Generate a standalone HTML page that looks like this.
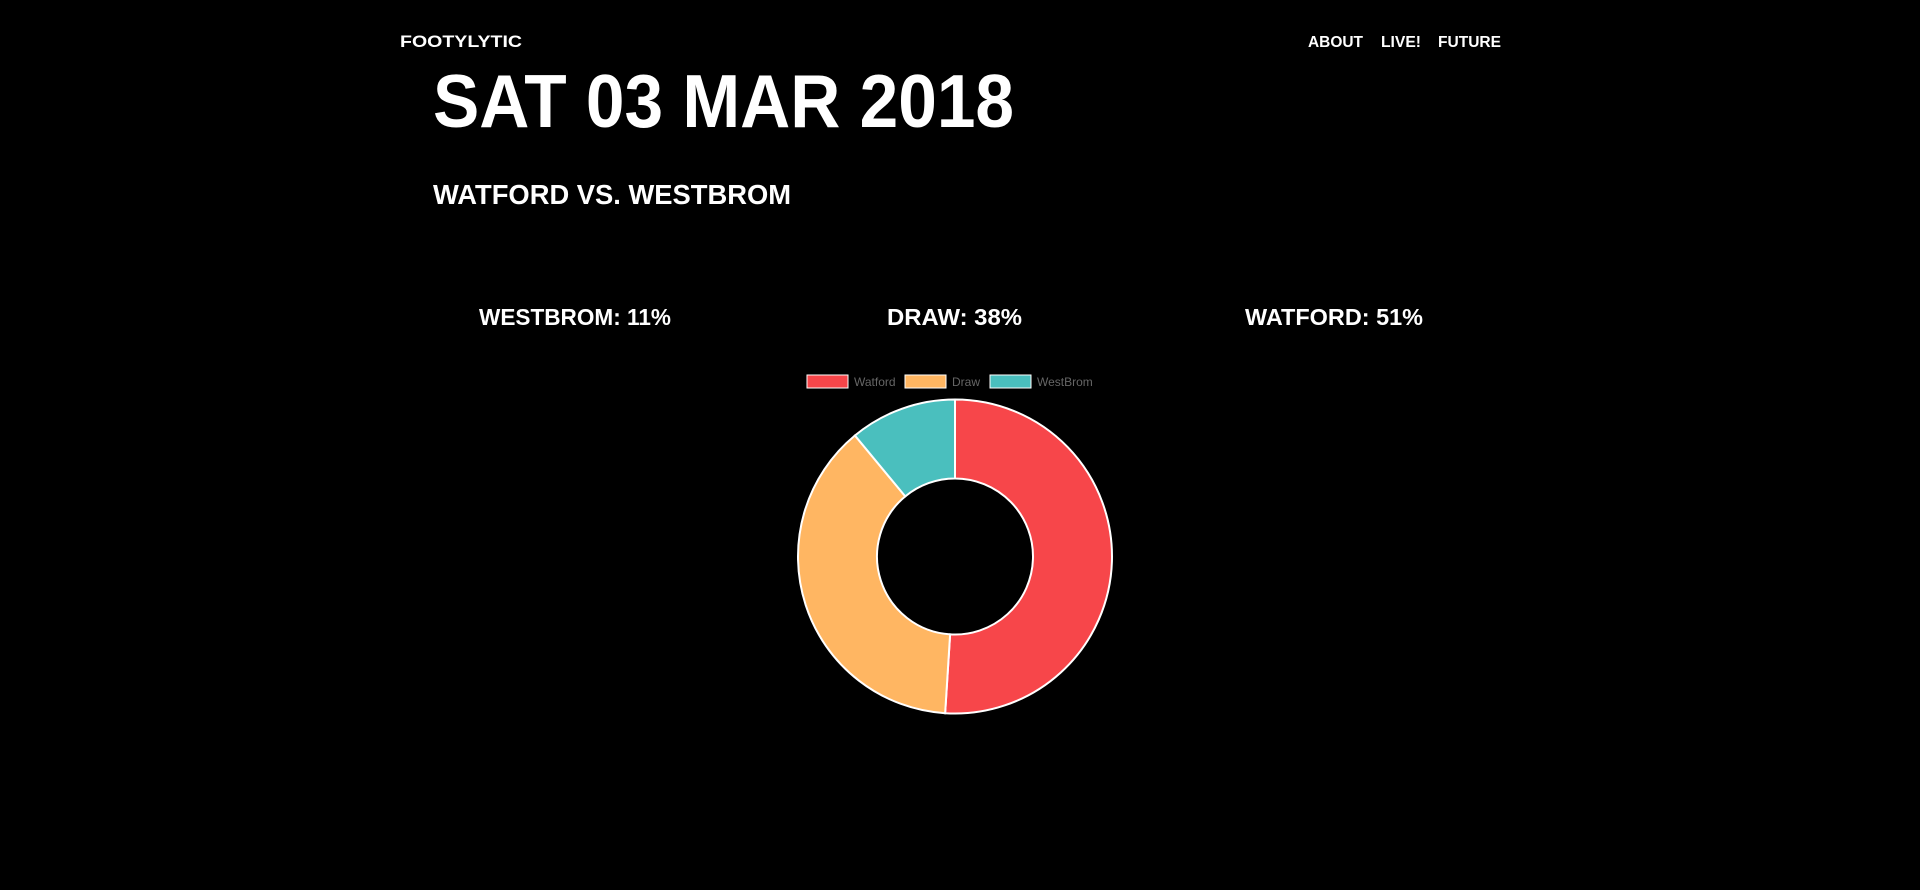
<!DOCTYPE html>
<html><head><meta charset="utf-8"><style>
html,body{margin:0;padding:0;background:#000;width:1920px;height:890px;overflow:hidden}
svg{display:block}
text{font-family:"Liberation Sans",sans-serif;font-weight:bold;fill:#fff}
</style></head><body>
<svg id="page" width="1920" height="890">
<text x="400" y="47" font-size="17" textLength="122" lengthAdjust="spacingAndGlyphs">FOOTYLYTIC</text>
<text x="1308" y="47" font-size="16" textLength="55" lengthAdjust="spacingAndGlyphs">ABOUT</text>
<text x="1381" y="47" font-size="16" textLength="40" lengthAdjust="spacingAndGlyphs">LIVE!</text>
<text x="1438" y="47" font-size="16" textLength="63" lengthAdjust="spacingAndGlyphs">FUTURE</text>
<text x="433" y="127" font-size="75" textLength="581" lengthAdjust="spacingAndGlyphs">SAT 03 MAR 2018</text>
<text x="433" y="204" font-size="28" textLength="358" lengthAdjust="spacingAndGlyphs">WATFORD VS. WESTBROM</text>
<text x="479" y="325" font-size="23" textLength="192" lengthAdjust="spacingAndGlyphs">WESTBROM: 11%</text>
<text x="887" y="325" font-size="23" textLength="135" lengthAdjust="spacingAndGlyphs">DRAW: 38%</text>
<text x="1245" y="325" font-size="23" textLength="178" lengthAdjust="spacingAndGlyphs">WATFORD: 51%</text>
<g id="legend"></g>
<g id="donut"></g>
</svg>
<script>
const labels=["Watford","Draw","WestBrom"];
const values=[51,38,11];
const colors=["#f7464a","#ffb662","#4abfbe"];
const NS="http://www.w3.org/2000/svg";
const cx=955,cy=556.5,R=157,r=78;
const donut=document.getElementById('donut');
const total=values.reduce((a,b)=>a+b,0);
let a0=-Math.PI/2;
function pt(rad,a){return [cx+rad*Math.cos(a),cy+rad*Math.sin(a)];}
values.forEach((v,i)=>{
  const a1=a0+v/total*2*Math.PI;
  const large=(a1-a0)>Math.PI?1:0;
  const [x0,y0]=pt(R,a0),[x1,y1]=pt(R,a1),[x2,y2]=pt(r,a1),[x3,y3]=pt(r,a0);
  const p=document.createElementNS(NS,'path');
  p.setAttribute('d',`M${x0},${y0}A${R},${R} 0 ${large} 1 ${x1},${y1}L${x2},${y2}A${r},${r} 0 ${large} 0 ${x3},${y3}Z`);
  p.setAttribute('fill',colors[i]);p.setAttribute('stroke','#fff');p.setAttribute('stroke-width','2');
  
  
  donut.appendChild(p);
  a0=a1;
});
const legend=document.getElementById('legend');
const lx=[807,905,990];
labels.forEach((l,i)=>{
  const g=document.createElementNS(NS,'g');
  
  
  const b=document.createElementNS(NS,'rect');
  b.setAttribute('x',lx[i]);b.setAttribute('y',375);b.setAttribute('width',41);b.setAttribute('height',13);
  b.setAttribute('fill',colors[i]);b.setAttribute('stroke','#fff');b.setAttribute('stroke-width','1');
  const t=document.createElementNS(NS,'text');
  t.setAttribute('x',lx[i]+47);t.setAttribute('y',386);t.setAttribute('font-size','12');
  t.setAttribute('style','font-weight:normal;fill:#666');
  t.textContent=l;
  g.appendChild(b);g.appendChild(t);legend.appendChild(g);
});
</script>
</body></html>
